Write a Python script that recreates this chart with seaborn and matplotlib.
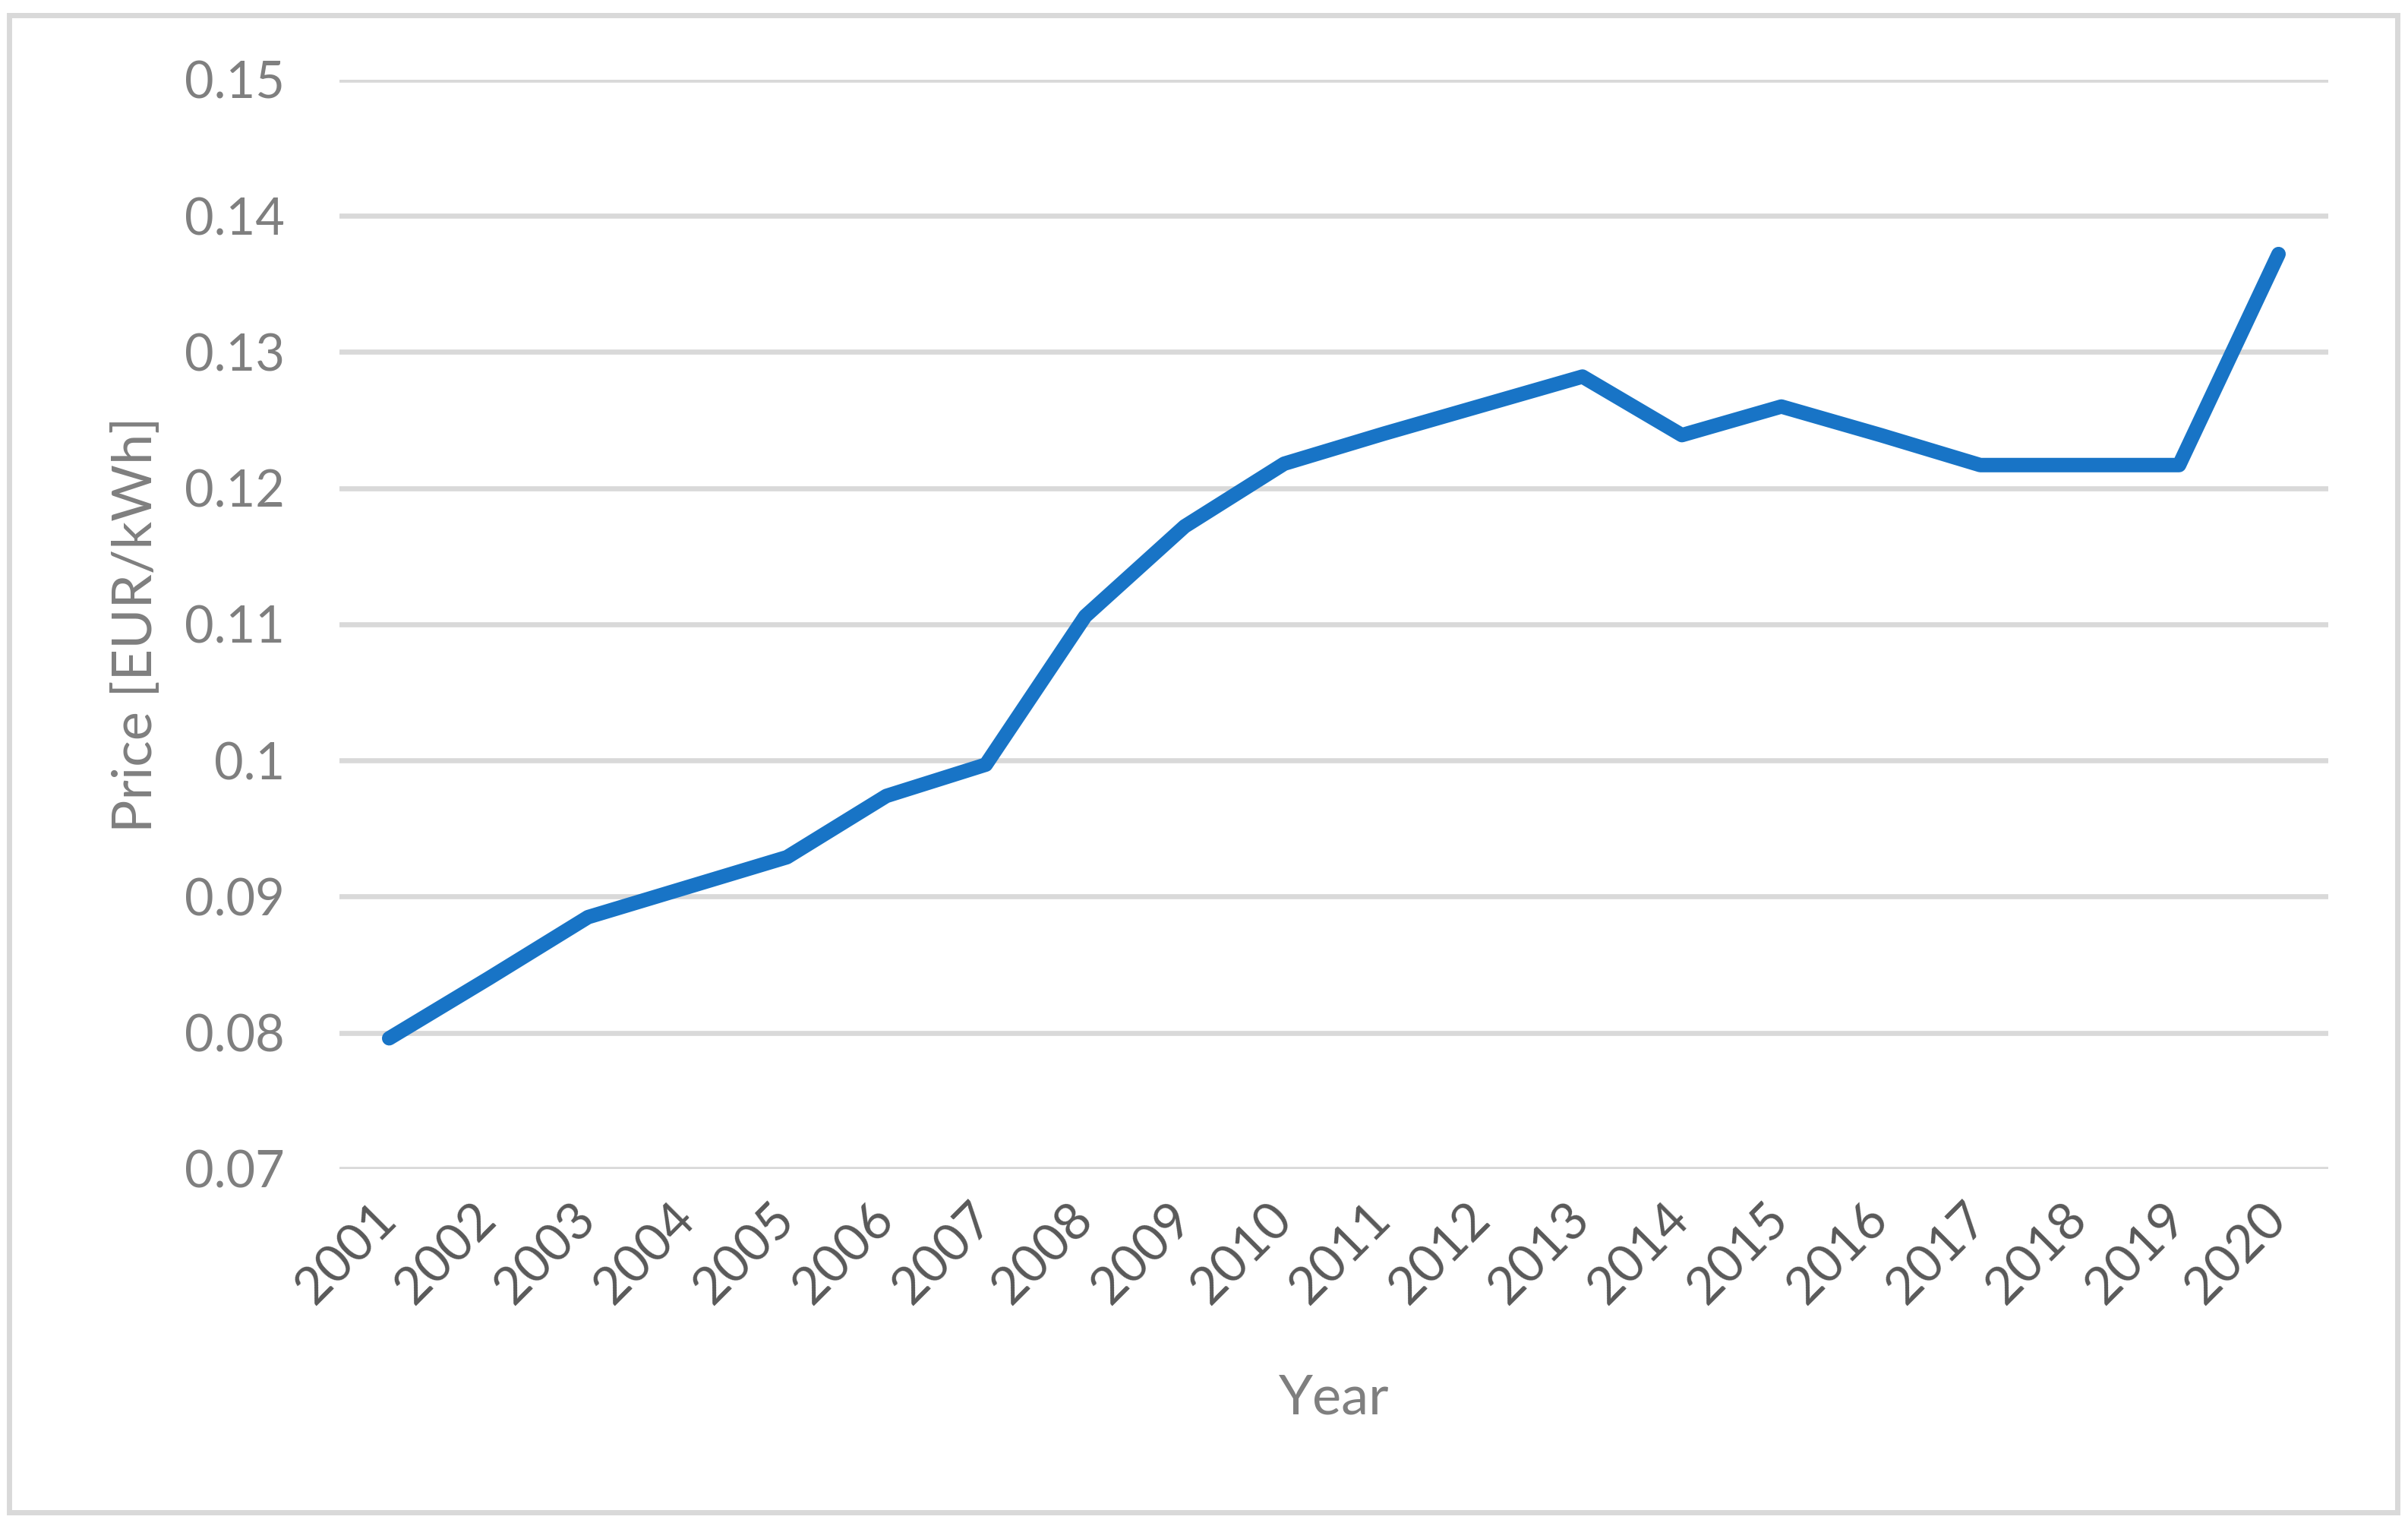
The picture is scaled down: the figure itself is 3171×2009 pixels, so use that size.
import pandas as pd
import matplotlib.pyplot as plt
import matplotlib.patches as patches
import seaborn as sns

# data
years = [2001, 2002, 2003, 2004, 2005, 2006, 2007, 2008, 2009, 2010,
         2011, 2012, 2013, 2014, 2015, 2016, 2017, 2018, 2019, 2020]
price = [0.0796, 0.0840, 0.0885, 0.0907, 0.0929, 0.0974, 0.0997, 0.1106, 0.1172, 0.1218,
         0.1240, 0.1261, 0.1282, 0.1239, 0.1260, 0.1239, 0.1217, 0.1217, 0.1217, 0.1372]
y_ticks = [0.07, 0.08, 0.09, 0.10, 0.11, 0.12, 0.13, 0.14, 0.15]
y_tick_labels = ["0.07", "0.08", "0.09", "0.1", "0.11", "0.12", "0.13", "0.14", "0.15"]

df = pd.DataFrame({"Year": years, "Price": price})

sns.set_style("white")
plt.rcParams["font.family"] = ["Lato", "DejaVu Sans"]

fig = plt.figure(figsize=(31.71, 20.09), dpi=100)
ax = fig.add_axes([447 / 3171, 1 - 1539 / 2009, (3066 - 447) / 3171, (1539 - 105) / 2009])

# horizontal gridlines
ax.set_yticks(y_ticks)
ax.set_yticklabels(y_tick_labels)
ax.yaxis.grid(True, color="#d9d9d9", linewidth=4.8)
ax.set_axisbelow(True)

sns.lineplot(data=df, x="Year", y="Price", ax=ax, color="#1874c6", linewidth=13.7,
             solid_capstyle="round", solid_joinstyle="round")

ax.set_xlim(years[0] - 0.5, years[-1] + 0.5)
ax.set_ylim(0.07, 0.15)
ax.set_xticks(years)
ax.set_xticklabels([str(y) for y in years], rotation=45, ha="right", va="center",
                   rotation_mode="anchor")

ax.tick_params(axis="y", length=0, pad=52, labelsize=48, labelcolor="#7f7f7f")
ax.tick_params(axis="x", length=0, pad=40, labelsize=49, labelcolor="#595959")

ax.set_xlabel("Year", fontsize=52, color="#7f7f7f", labelpad=58)
ax.set_ylabel("Price [EUR/kWh]", fontsize=52, color="#7f7f7f", labelpad=22)

for side in ["top", "right", "left", "bottom"]:
    ax.spines[side].set_visible(False)

# light grey chart border
border = patches.Rectangle((12 / 3171, 1 - 1991 / 2009), (3157 - 12) / 3171, (1991 - 20) / 2009,
                           transform=fig.transFigure, fill=False, edgecolor="#d9d9d9",
                           linewidth=5)
fig.patches.append(border)

fig.savefig("out.png", dpi=100)
